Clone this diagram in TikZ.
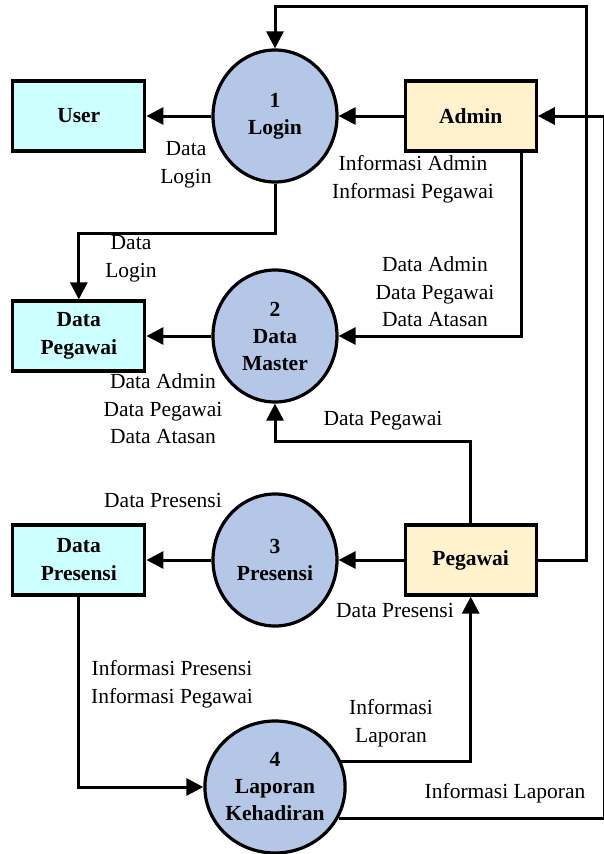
\documentclass[tikz,border=0pt]{standalone}
\usepackage{fontspec}
\setmainfont{LiberationSerif}[Extension=.ttf, UprightFont=*-Regular, BoldFont=*-Bold, ItalicFont=*-Italic, BoldItalicFont=*-BoldItalic]
\usetikzlibrary{arrows.meta,positioning,shapes.geometric}

\definecolor{storefill}{HTML}{CCFFFF}
\definecolor{entfill}{HTML}{FFF2CC}
\definecolor{procfill}{HTML}{B4C7E7}

\begin{document}
\begin{tikzpicture}[
  x=1pt, y=-1pt,
  font=\fontsize{21.5}{27.5}\selectfont,
  >=Triangle,
  store/.style={draw, line width=3.2pt, fill=storefill, minimum width=132pt, minimum height=70pt, align=center, font=\fontsize{21.5}{28}\selectfont\bfseries, inner sep=0pt},
  ent/.style={draw, line width=3.2pt, fill=entfill, minimum width=131pt, minimum height=70pt, align=center, font=\fontsize{21.5}{28}\selectfont\bfseries, inner sep=0pt},
  proc/.style={draw, ellipse, line width=3.2pt, fill=procfill, minimum width=124pt, minimum height=132pt, align=center, font=\fontsize{21.5}{27}\selectfont\bfseries, inner sep=0pt},
  lbl/.style={align=center, inner sep=0pt},
  arrow/.style={line width=3pt, -{Triangle[length=17pt,width=17pt]}}
]
\useasboundingbox (0,0) rectangle (603,854);
% Processes and entities
\node[proc] (login) at (275,116) {1\\Login};
\node[store, left=65pt of login] (user) {User};
\node[ent, right=65pt of login] (admin) {Admin};
\node[proc] (master) at (275,336) {2\\Data\\Master};
\node[store, left=65pt of master] (pegawaidb) {Data\\Pegawai};
\node[proc] (presensi) at (275,560) {3\\Presensi};
\node[store, left=65pt of presensi] (presensidb) {Data\\Presensi};
\node[ent, right=65pt of presensi] (pegawai) {Pegawai};
\node[proc] (laporan) at (275,787) {4\\Laporan\\Kehadiran};
% Flows
\draw[arrow] (login) -- (user);
\draw[arrow] (admin) -- (login);
\draw[arrow] (login.south) -- ++(0,50) -| (pegawaidb.north);
\draw[arrow] (master) -- (pegawaidb);
\draw[arrow] ([xshift=-16pt]admin.south east) |- (master.east);
\draw[arrow] (pegawai.north) -- ++(0,-82) -| (master.south);
\draw[arrow] (presensi) -- (presensidb);
\draw[arrow] (pegawai) -- (presensi);
\draw[arrow] (presensidb.south) |- (laporan.west);
\draw[arrow] (laporan.21) -| (pegawai.south);
\draw[arrow] (laporan.-26) -| ([xshift=67pt]admin.east) |- (admin.east);
\draw[arrow] (pegawai.east) -- ++(49,0) |- ([yshift=42pt]login.north) -- (login.north);
% Flow labels
\node[lbl] (l1) at (186,165) {Data\\Login};
\node[lbl] (l2) at (413,179) {Informasi Admin\\Informasi Pegawai};
\node[lbl] (l3) at (131,259) {Data\\Login};
\node[lbl] (l4) at (435,292) {Data Admin\\Data Pegawai\\Data Atasan};
\node[lbl] (l5) at (163,409) {Data Admin\\Data Pegawai\\Data Atasan};
\node[lbl] (l6) at (383,421) {Data Pegawai};
\node[lbl] (l7) at (163,500) {Data Presensi};
\node[lbl] (l8) at (395,610) {Data Presensi};
\node[lbl] (l9) at (172,684) {Informasi Presensi\\Informasi Pegawai};
\node[lbl] (l10) at (391,723) {Informasi\\Laporan};
\node[lbl] (l11) at (505,793) {Informasi Laporan};
\end{tikzpicture}
\end{document}
